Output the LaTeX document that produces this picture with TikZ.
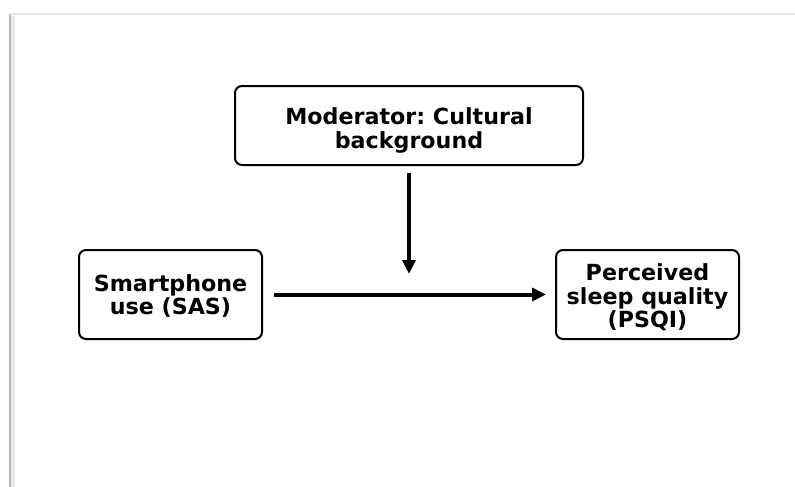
\documentclass[tikz,border=0pt]{standalone}
\usepackage{fontspec}
\setmainfont{DejaVu Sans}
\usetikzlibrary{arrows.meta}
\frenchspacing

% pad above the first line, to lower the text in its box
\newcommand{\padtop}[1]{\rule{0pt}{#1}}

\tikzset{
    modelbox/.style={draw, line width=2pt, rounded corners=7pt, inner sep=0pt,
        align=center, font=\bfseries\fontsize{22.2}{23.3}\selectfont},
    pathline/.style={line width=4pt, -{Triangle[length=14pt, width=13pt]}}
}

\begin{document}
\begin{tikzpicture}[x=1pt, y=-1pt]
    \useasboundingbox (0, 0) rectangle (795, 487);

    % Page frame
    \draw[gray!18, line width=4pt] (12.5, 487) -- (12.5, 16);
    \draw[gray!55, line width=1.5pt] (10, 487) -- (10, 14);
    \draw[gray!20, line width=1.5pt] (10, 14) -- (795, 14);

    % Boxes
    \node[modelbox, minimum width=348pt, minimum height=79pt] (mod) at (409, 125.5)
        {\padtop{26.5pt}Moderator: Cultural\\background};
    \node[modelbox, minimum width=183pt, minimum height=89pt] (sas) at (170.5, 294.5)
        {\padtop{19.7pt}Smartphone\\use (SAS)};
    \node[modelbox, minimum width=183pt, minimum height=89pt] (psqi) at (647.5, 294.5)
        {\padtop{22.5pt}Perceived\\sleep quality\\(PSQI)};

    % Free end of moderator arrow
    \coordinate (modend) at (409, 274);

    % Connect
    \draw[pathline, shorten >=9pt, shorten <=11pt] (sas) -- (psqi);
    \draw[pathline, shorten <=7pt] (mod) -- (modend);
\end{tikzpicture}
\end{document}
